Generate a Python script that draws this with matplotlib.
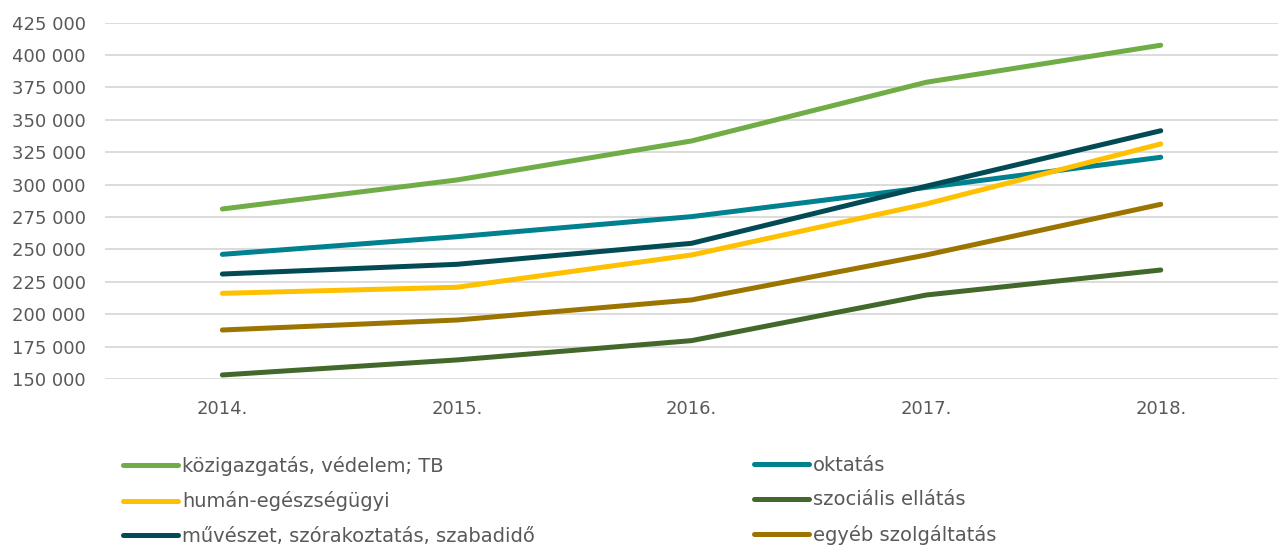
import matplotlib
matplotlib.use("Agg")
import matplotlib.pyplot as plt
from matplotlib.ticker import FuncFormatter, MultipleLocator

# Adatok
years = ["2014.", "2015.", "2016.", "2017.", "2018."]

kozigazgatas = [281200, 303600, 333700, 379000, 407600]
oktatas = [246200, 259800, 275300, 297800, 321100]
human = [216100, 220800, 245700, 285100, 331400]
szocialis = [153100, 164700, 179600, 214800, 234100]
muveszet = [231000, 238500, 254700, 298800, 341600]
egyeb = [187800, 195500, 211000, 245700, 284800]

labels = ["közigazgatás, védelem; TB", "oktatás", "humán-egészségügyi",
          "szociális ellátás", "művészet, szórakoztatás, szabadidő",
          "egyéb szolgáltatás"]
colors = ["#70AD47", "#00818F", "#FFC000", "#43682B", "#024B55", "#9C7500"]
series = [kozigazgatas, oktatas, human, szocialis, muveszet, egyeb]

text_color = "#595959"
plt.rcParams["font.family"] = ["DejaVu Sans"]

fig = plt.figure(figsize=(12.81, 5.49), dpi=100)
ax = fig.add_axes([0.082, 0.3097, 0.9157, 0.649])

x = range(len(years))
handles = []
for vals, col, lab in zip(series, colors, labels):
    ln, = ax.plot(x, vals, color=col, lw=3.6, solid_capstyle="round",
                  solid_joinstyle="round", label=lab)
    handles.append(ln)

ax.set_xlim(-0.5, 4.5)
ax.set_ylim(150000, 425000)
ax.yaxis.set_major_locator(MultipleLocator(25000))
ax.yaxis.set_major_formatter(FuncFormatter(lambda v, p: f"{int(v):,}".replace(",", " ")))
ax.set_xticks(list(x))
ax.set_xticklabels(years)

ax.grid(axis="y", color="#D9D9D9", lw=1.3)
ax.set_axisbelow(True)
for s in ax.spines.values():
    s.set_visible(False)
ax.tick_params(axis="both", length=0, labelsize=13, colors=text_color)
ax.tick_params(axis="y", pad=14)
ax.tick_params(axis="x", pad=15)

# Jelmagyarázat két oszlopban
leg_kw = dict(frameon=False, fontsize=14, handlelength=2.85, handletextpad=0.2,
              labelspacing=0.78, borderpad=0, borderaxespad=0, labelcolor=text_color)
leg1 = fig.legend([handles[0], handles[2], handles[4]],
                  [labels[0], labels[2], labels[4]],
                  loc="upper left", bbox_to_anchor=(0.096, 0.169), **leg_kw)
leg2 = fig.legend([handles[1], handles[3], handles[5]],
                  [labels[1], labels[3], labels[5]],
                  loc="upper left", bbox_to_anchor=(0.5886, 0.169), **leg_kw)

fig.savefig("out.png", dpi=100)
plt.close()
